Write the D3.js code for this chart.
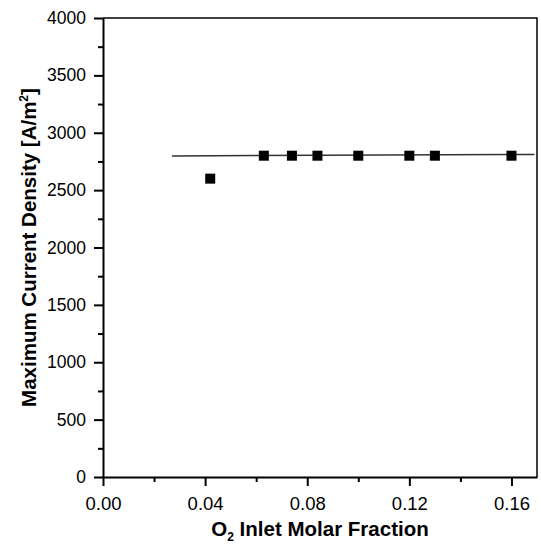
<!DOCTYPE html>
<html>

<head>
    <script type="text/javascript" src="https://cdnjs.cloudflare.com/ajax/libs/d3/7.8.5/d3.min.js"></script>
    <style>
        body {
            margin: 0;
            background: white;
        }

        svg text {
            font-family: "Liberation Sans", Arial, sans-serif;
            fill: black;
        }

        .title {
            font-size: 20.5px;
            font-weight: bold;
        }
    </style>
</head>

<body>
    <script>
        // measured points
        var o2Fraction = [0.042, 0.063, 0.074, 0.084, 0.100, 0.120, 0.130, 0.160];
        var maxCurrent = [2600, 2800, 2800, 2800, 2800, 2800, 2800, 2800];
        // fitted line
        var fitX = [0.027, 0.169];
        var fitY = [2798, 2811];
        // ticks
        var xTicks = [0.00, 0.04, 0.08, 0.12, 0.16];
        var xMinor = [0.02, 0.06, 0.10, 0.14];
        var yTicks = [0, 500, 1000, 1500, 2000, 2500, 3000, 3500, 4000];
        var yMinor = [250, 750, 1250, 1750, 2250, 2750, 3250, 3750];

        var width = 541,
            height = 544,
            plotLeft = 103,
            plotRight = 537,
            plotTop = 18,
            plotBottom = 477;

        var x = d3.scaleLinear()
            .domain([0, 0.17])
            .range([plotLeft, plotRight]);

        var y = d3.scaleLinear()
            .domain([0, 4000])
            .range([plotBottom, plotTop]);

        var svg = d3.select('body')
            .append('svg')
            .attr('width', width)
            .attr('height', height);

        // top and right frame
        svg.append('path')
            .attr('d', 'M' + plotLeft + ',' + plotTop + 'H' + plotRight + 'V' + plotBottom)
            .attr('fill', 'none')
            .attr('stroke', 'black')
            .attr('stroke-width', 1.5);

        // minor ticks first
        svg.append('g')
            .attr('transform', 'translate(0,' + plotBottom + ')')
            .call(d3.axisBottom(x).tickValues(xMinor).tickSize(5).tickFormat(''))
            .call(function(g) { g.select('.domain').remove(); })
            .selectAll('line').attr('stroke-width', 2);

        svg.append('g')
            .attr('transform', 'translate(' + plotLeft + ',0)')
            .call(d3.axisLeft(y).tickValues(yMinor).tickSize(5).tickFormat(''))
            .call(function(g) { g.select('.domain').remove(); })
            .selectAll('line').attr('stroke-width', 2);

        var xAxis = svg.append('g')
            .attr('transform', 'translate(0,' + plotBottom + ')')
            .call(d3.axisBottom(x).tickValues(xTicks).tickSizeInner(9).tickSizeOuter(0)
                .tickPadding(11).tickFormat(d3.format('.2f')));
        xAxis.attr('font-family', null).attr('font-size', 18.5);
        xAxis.select('.domain').attr('stroke-width', 2);
        xAxis.selectAll('.tick line').attr('stroke-width', 2);

        var yAxis = svg.append('g')
            .attr('transform', 'translate(' + plotLeft + ',0)')
            .call(d3.axisLeft(y).tickValues(yTicks).tickSizeInner(9).tickSizeOuter(0)
                .tickPadding(8).tickFormat(d3.format('d')));
        yAxis.attr('font-family', null).attr('font-size', 17.5);
        yAxis.select('.domain').attr('stroke-width', 2);
        yAxis.selectAll('.tick line').attr('stroke-width', 2);

        // fit line
        var line = d3.line()
            .x(function(d) { return x(d[0]); })
            .y(function(d) { return y(d[1]); });

        svg.append('path')
            .datum(d3.zip(fitX, fitY))
            .attr('d', line)
            .attr('fill', 'none')
            .attr('stroke', '#333')
            .attr('stroke-width', 1.5);

        // points
        var sq = 10;
        svg.selectAll('rect.pt')
            .data(d3.zip(o2Fraction, maxCurrent))
            .enter()
            .append('rect')
            .attr('class', 'pt')
            .attr('x', function(d) { return x(d[0]) - sq / 2; })
            .attr('y', function(d) { return y(d[1]) - sq / 2; })
            .attr('width', sq)
            .attr('height', sq)
            .attr('fill', 'black');

        // axis titles
        var xt = svg.append('text')
            .attr('class', 'title')
            .attr('x', 320)
            .attr('y', 536)
            .attr('text-anchor', 'middle');
        xt.append('tspan').text('O');
        xt.append('tspan').attr('font-size', '12px').attr('dy', 5).text('2');
        xt.append('tspan').attr('dy', -5).text(' Inlet Molar Fraction');

        var yt = svg.append('text')
            .attr('class', 'title')
            .attr('transform', 'translate(36,' + ((plotTop + plotBottom) / 2) + ') rotate(-90)')
            .attr('text-anchor', 'middle');
        yt.append('tspan').text('Maximum Current Density [A/m');
        yt.append('tspan').attr('font-size', '12px').attr('dy', -8).text('2');
        yt.append('tspan').attr('dy', 8).text(']');
    </script>
</body>

</html>
